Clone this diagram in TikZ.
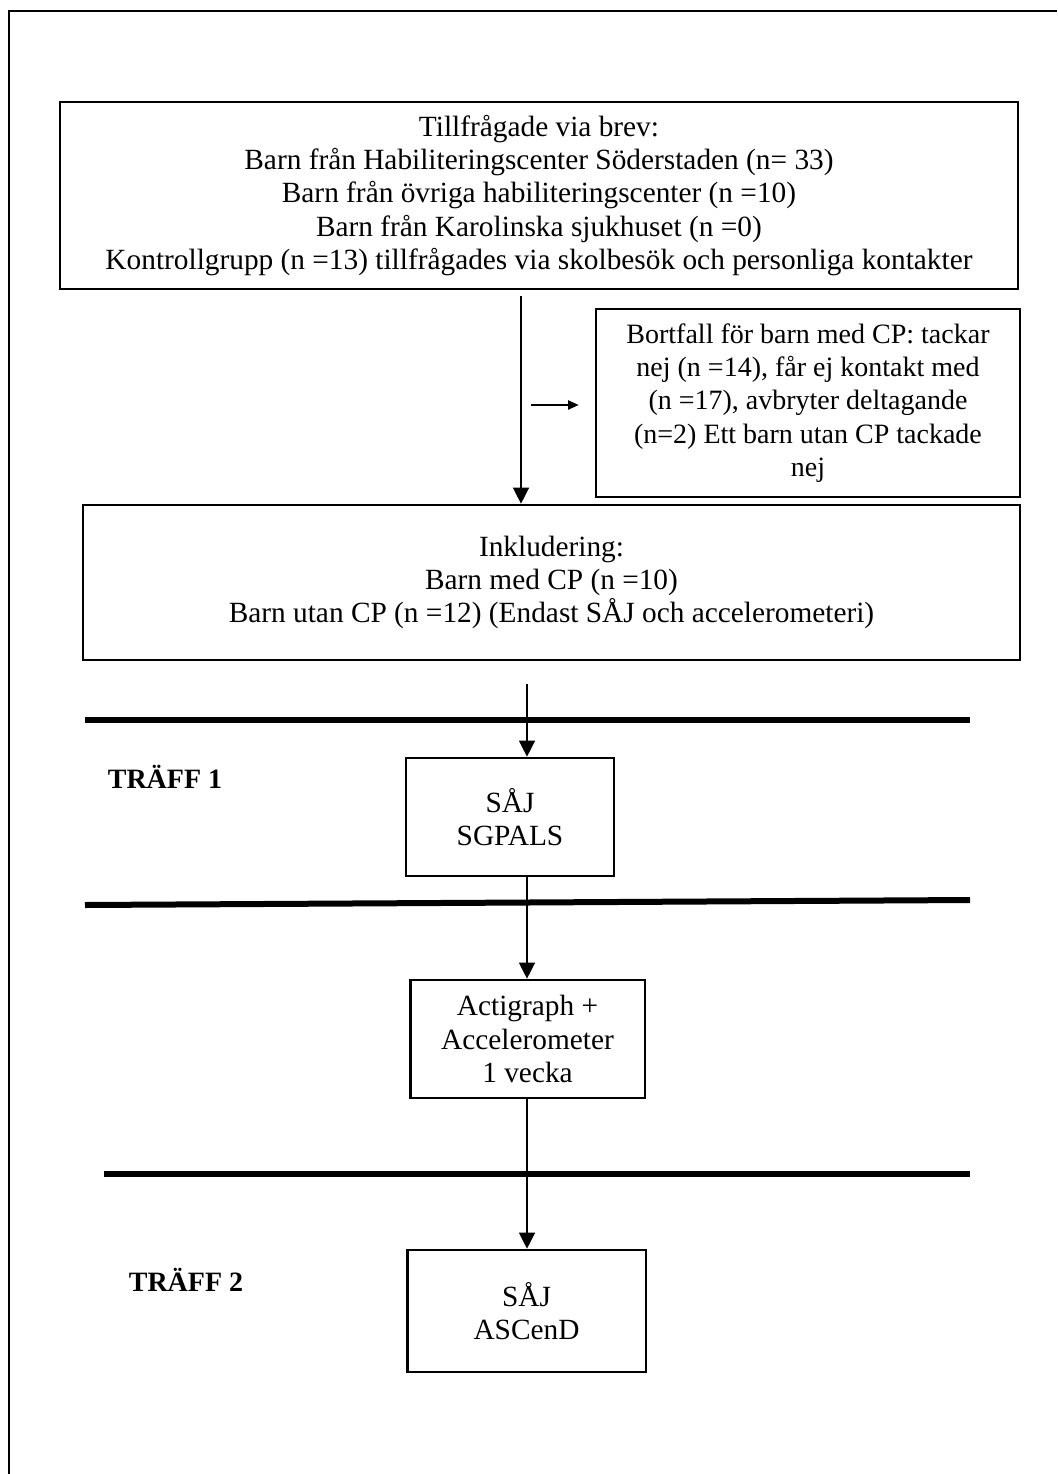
\documentclass[tikz,border=0pt]{standalone}
\usepackage{fontspec}
\setmainfont{Liberation Serif}
\usepackage{tikz}
\usetikzlibrary{arrows.meta, positioning, calc}

\tikzset{
    flowbox/.style={draw=black, line width=2pt, align=center, inner sep=0pt,
        font=\fontsize{22}{25}\selectfont},
    dropbox/.style={flowbox, font=\fontsize{21}{25}\selectfont},
    flowarrow/.style={line width=1pt, -{Triangle[length=12pt,width=12pt]}},
    sidearrow/.style={line width=1pt, -{Triangle[length=8pt,width=7pt]}},
    phaseline/.style={line width=4.5pt},
    phaselabel/.style={font=\fontsize{21}{25}\selectfont\bfseries}
}

\begin{document}
\begin{tikzpicture}[x=0.75pt,y=-0.75pt]
\useasboundingbox (0,0) rectangle (1057,1474);
\draw[line width=2pt] (9,1474) -- (9,11) -- (1057,11);

\node[flowbox, minimum width=718.5pt, minimum height=140.25pt] (intro) at (539,195.5)
{
Tillfrågade via brev:\\
Barn från Habiliteringscenter Söderstaden (n= 33)\\
Barn från övriga habiliteringscenter (n =10)\\
Barn från Karolinska sjukhuset (n =0)\\
Kontrollgrupp (n =13) tillfrågades via skolbesök och personliga kontakter
};

\node[dropbox, minimum width=318pt, minimum height=141pt] (drop) at (808,403)
{
Bortfall för barn med CP: tackar\\
nej (n =14), får ej kontakt med\\
(n =17), avbryter deltagande\\
(n=2) Ett barn utan CP tackade\\
nej
};

\node[flowbox, minimum width=702.75pt, minimum height=116.25pt] (incl) at (551.5,582.5)
{
Inkludering:\\
Barn med CP (n =10)\\
Barn utan CP (n =12) (Endast SÅJ och accelerometeri)
};

\node[phaselabel] (visitA) at (165,777) {TRÄFF 1};
\node[phaselabel] (visitB) at (186,1280) {TRÄFF 2};

\node[flowbox, minimum width=156pt, minimum height=88.5pt] (sgpals) at (510,817)
{SÅJ\\SGPALS};
\node[flowbox, minimum width=176pt, minimum height=88.5pt] (acti) at (527.5,1039)
{Actigraph +\\Accelerometer\\1 vecka};
\node[flowbox, minimum width=179pt, minimum height=91.5pt] (ascend) at (526.5,1311)
{SÅJ\\ASCenD};

\draw[phaseline] (85,720) -- (970,720);
\draw[phaseline] (85,905) -- (970,900);
\draw[phaseline] (104,1174) -- (970,1174);

\coordinate (topx) at (521,0);
\coordinate (gap) at (527,684);
\coordinate (side) at (531,405);

\draw[flowarrow, shorten <=4pt] (intro.south -| topx) -- (incl.north -| topx);
\draw[sidearrow, shorten >=12pt] (side) -- (side -| drop.west);
\draw[flowarrow] (gap) -- (sgpals.north -| gap);
\draw[flowarrow] (sgpals.south -| gap) -- (acti.north -| gap);
\draw[flowarrow] (acti.south -| gap) -- (ascend.north -| gap);
\end{tikzpicture}
\end{document}
